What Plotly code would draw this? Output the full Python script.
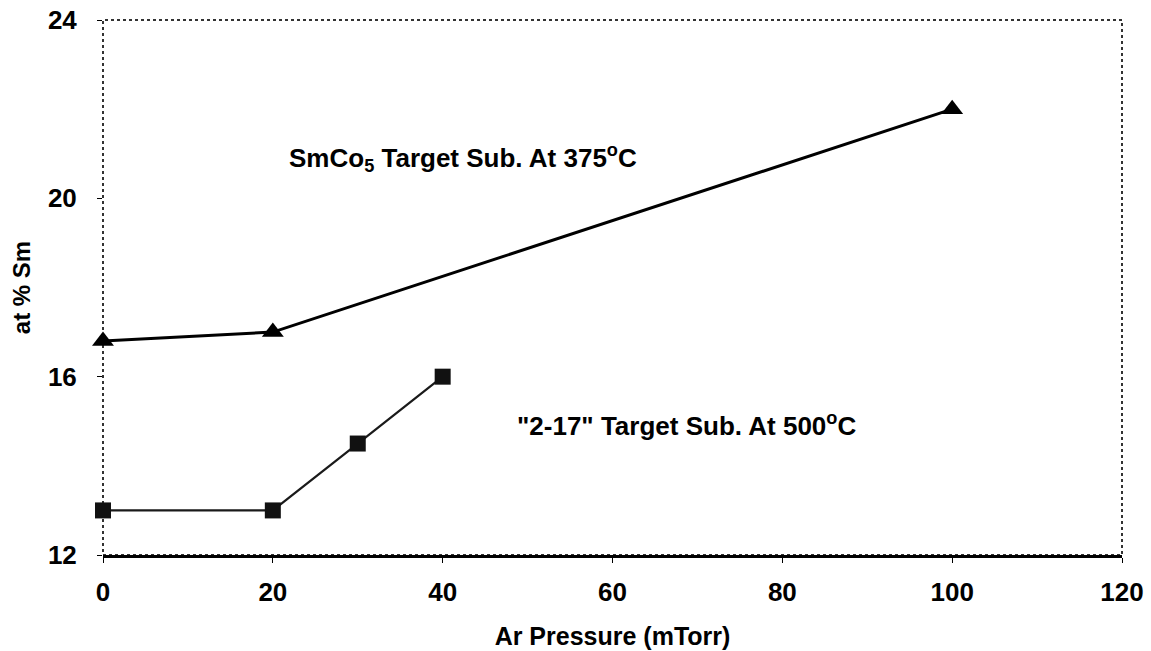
import plotly.graph_objects as go

# Data
smco5_x = [0, 20, 100]
smco5_y = [16.8, 17.0, 22.0]
t217_x = [0, 20, 30, 40]
t217_y = [13.0, 13.0, 14.5, 16.0]

x_ticks = [0, 20, 40, 60, 80, 100, 120]
y_ticks = [12, 16, 20, 24]

font_family = "Liberation Sans, Arial, sans-serif"

fig = go.Figure()
fig.add_trace(go.Scatter(
    x=smco5_x, y=smco5_y, mode="lines+markers",
    line=dict(color="black", width=3),
    marker=dict(symbol="triangle-up", size=19, color="black"),
    showlegend=False, cliponaxis=False))
fig.add_trace(go.Scatter(
    x=t217_x, y=t217_y, mode="lines+markers",
    line=dict(color="#1a1a1a", width=2.2),
    marker=dict(symbol="square", size=16, color="#111111"),
    showlegend=False, cliponaxis=False))

fig.add_annotation(x=42.4, y=20.9, xref="x", yref="y",
                   text="<b>SmCo<sub>5</sub> Target Sub. At 375<sup>o</sup>C</b>",
                   showarrow=False, font=dict(family=font_family, size=26, color="black"))
fig.add_annotation(x=68.7, y=14.92, xref="x", yref="y",
                   text="<b>\"2-17\" Target Sub. At 500<sup>o</sup>C</b>",
                   showarrow=False, font=dict(family=font_family, size=26, color="black"))

# dotted plot frame
fig.add_shape(type="rect", xref="paper", yref="paper", x0=0, y0=0, x1=1, y1=1,
              line=dict(color="#333333", width=2, dash="dot"), layer="below")

fig.update_layout(
    width=1151, height=651,
    margin=dict(l=103, r=29, t=20, b=96),
    paper_bgcolor="white", plot_bgcolor="white",
    font=dict(family=font_family, color="black"),
    xaxis=dict(range=[0, 120], tickvals=x_ticks, showgrid=False, zeroline=False,
               showline=True, linecolor="black", linewidth=2.5,
               ticks="outside", ticklen=5, tickcolor="black", tickwidth=1,
               ticklabelstandoff=7, automargin=False,
               tickfont=dict(family=font_family, size=26, color="black", weight="bold"),
               title=dict(text="<b>Ar Pressure (mTorr)</b>", font=dict(family=font_family, size=25),
                          standoff=22)),
    yaxis=dict(range=[12, 24], tickvals=y_ticks, showgrid=False, zeroline=False,
               showline=False, automargin=False,
               ticks="outside", ticklen=5, tickcolor="black", tickwidth=1,
               ticklabelstandoff=15,
               tickfont=dict(family=font_family, size=26, color="black", weight="bold"),
               title=dict(text="<b>at % Sm</b>", font=dict(family=font_family, size=24),
                          standoff=10)),
)

fig.write_html("out.html")
